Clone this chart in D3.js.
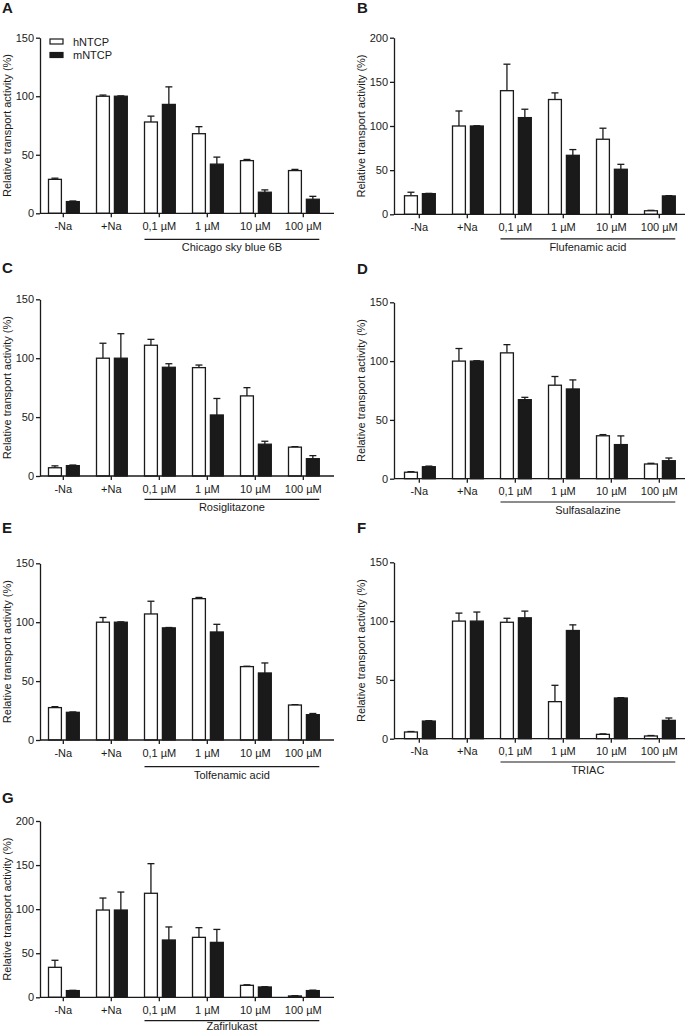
<!DOCTYPE html>
<html>
<head>
<meta charset="utf-8">
<script src="https://cdn.jsdelivr.net/npm/d3@7"></script>
<style>
  body { margin: 0; background: #fff; }
  svg text { font-family: Arial, "Liberation Sans", sans-serif; fill: #1a1a1a; }
</style>
</head>
<body>
<div id="chart"></div>
<script>
// x categories, shared by all panels
var groups = ['-Na', '+Na', '0,1 µM', '1 µM', '10 µM', '100 µM'];
var series = ['hNTCP', 'mNTCP'];

// one entry per panel, A..G
var letters = ['A', 'B', 'C', 'D', 'E', 'F', 'G'];
var compounds = ['Chicago sky blue 6B', 'Flufenamic acid', 'Rosiglitazone', 'Sulfasalazine',
                 'Tolfenamic acid', 'TRIAC', 'Zafirlukast'];
var yMax = [150, 200, 150, 150, 150, 150, 200];
var yTicks = [[0, 50, 100, 150], [0, 50, 100, 150, 200], [0, 50, 100, 150], [0, 50, 100, 150],
              [0, 50, 100, 150], [0, 50, 100, 150], [0, 50, 100, 150, 200]];

// means and upper error (SD) per panel, in the order of groups
var hntcpMean = [
    [29, 100, 78, 68, 45, 36.5],
    [21, 100, 140, 130, 85, 4],
    [7, 100, 111, 92, 68, 24.5],
    [5.5, 100, 107, 79.5, 36.5, 12.5],
    [27.5, 100, 107, 120, 62.3, 29.7],
    [5.7, 100, 99, 31.5, 3.7, 2.3],
    [34, 99, 118, 68, 13.6, 1.5]
];
var hntcpErr = [
    [1, 1, 5, 6, 1, 1],
    [4, 17, 30, 7.5, 12.5, 0.5],
    [1.6, 12.7, 5, 2.2, 7, 0.4],
    [0.5, 10.7, 7, 7.4, 1, 0.6],
    [0.8, 4, 10.8, 1, 0.3, 0.3],
    [0.4, 6.8, 3.4, 13.9, 0.4, 0.4],
    [8, 13.6, 33.6, 11, 0.6, 0.4]
];
var mntcpMean = [
    [10, 100, 93, 42, 18, 12],
    [23.4, 100, 109.5, 66.8, 51, 20.8],
    [8.8, 100, 92.3, 51.8, 27, 14.7],
    [10.2, 100, 67.2, 76.3, 29, 15.3],
    [23.5, 100, 95.2, 91.7, 56.9, 21.5],
    [15, 100, 102.8, 92, 34.6, 15.6],
    [7.6, 99, 65, 62.3, 11.7, 7.6]
];
var mntcpErr = [
    [0.5, 0.3, 15, 6, 2, 2.5],
    [0.3, 0.3, 9.5, 6.5, 5.6, 0.3],
    [0.5, 20.8, 3, 14, 2.5, 2.6],
    [0.5, 0.3, 2, 7.7, 7.4, 2.3],
    [0.3, 0.3, 0.3, 6.5, 8.5, 1],
    [0.3, 7.7, 5.7, 4.8, 0.3, 2],
    [0.3, 20.4, 14.8, 14.7, 0.3, 0.5]
];

// where each panel sits on the page
var layout = [
    {ax: 40,  bx: 39.3,  top: 37.7,  bottom: 213.3, ly: 13,  ul: 26},
    {ax: 394, bx: 395.3, top: 37.7,  bottom: 214.3, ly: 13,  ul: 24.5},
    {ax: 40,  bx: 39.3,  top: 299.3, bottom: 476,   ly: 273, ul: 23.3},
    {ax: 394, bx: 395.3, top: 302.3, bottom: 478.7, ly: 274, ul: 23.3},
    {ax: 40,  bx: 39.3,  top: 563.3, bottom: 740,   ly: 533, ul: 26.7},
    {ax: 394, bx: 395.3, top: 562.3, bottom: 738.7, ly: 533, ul: 23.3},
    {ax: 40,  bx: 39.3,  top: 821,   bottom: 997.3, ly: 803, ul: 23.4}
];

var width = 685;
var height = 1033;
var ink = '#1a1a1a';
var fontSize = '11px';

var svg = d3.select('#chart')
    .append('svg')
    .attr('width', width)
    .attr('height', height);

function drawPanel(i) {
    var L = layout[i];

    var x = d3.scaleBand()
        .domain(groups)
        .range([L.bx, L.bx + 48 * groups.length]);

    var x1 = d3.scaleBand()
        .domain(series)
        .range([9.2, 40])
        .paddingInner(0.28);

    var y = d3.scaleLinear()
        .domain([0, yMax[i]])
        .range([L.bottom, L.top]);

    var g = svg.append('g').attr('class', 'panel');

    // panel letter
    g.append('text')
        .attr('x', i % 2 ? 357 : 2)
        .attr('y', L.ly)
        .style('font-size', '15px')
        .style('font-weight', 'bold')
        .text(letters[i]);

    // bars
    var rows = groups.map(function(grp, j) {
        return [
            {grp: grp, s: 'hNTCP', v: hntcpMean[i][j], e: hntcpErr[i][j]},
            {grp: grp, s: 'mNTCP', v: mntcpMean[i][j], e: mntcpErr[i][j]}
        ];
    });
    var flat = d3.merge(rows);

    // error whiskers (upper only), drawn first so the bar outline sits on top
    var err = g.selectAll('.err')
        .data(flat)
        .enter().append('g')
        .attr('class', 'err')
        .attr('transform', function(d) {
            return 'translate(' + (x(d.grp) + x1(d.s) + x1.bandwidth() / 2) + ',0)';
        });
    err.append('line')
        .attr('x1', 0).attr('x2', 0)
        .attr('y1', function(d) { return y(d.v); })
        .attr('y2', function(d) { return y(d.v + d.e); })
        .style('stroke', ink)
        .style('stroke-width', 1.3);
    err.append('line')
        .attr('x1', -3.5).attr('x2', 3.5)
        .attr('y1', function(d) { return y(d.v + d.e); })
        .attr('y2', function(d) { return y(d.v + d.e); })
        .style('stroke', ink)
        .style('stroke-width', 1.3);

    g.selectAll('.bar')
        .data(flat)
        .enter().append('rect')
        .attr('class', 'bar')
        .attr('x', function(d) { return x(d.grp) + x1(d.s); })
        .attr('y', function(d) { return y(d.v); })
        .attr('width', x1.bandwidth())
        .attr('height', function(d) { return y(0) - y(d.v); })
        .style('fill', function(d) { return d.s === 'hNTCP' ? '#fff' : ink; })
        .style('stroke', ink)
        .style('stroke-width', 1.3);

    // y axis
    var yAxis = g.append('g')
        .attr('transform', 'translate(' + L.ax + ',0)')
        .call(d3.axisLeft(y).tickValues(yTicks[i]).tickSize(4).tickSizeOuter(0).tickPadding(2));
    yAxis.select('.domain').style('stroke', ink).style('stroke-width', 1.3);
    yAxis.selectAll('.tick line').style('stroke', ink).style('stroke-width', 1.3);
    yAxis.selectAll('.tick text')
        .style('font-size', fontSize)
        .style('font-family', 'Arial, "Liberation Sans", sans-serif')
        .style('fill', ink);

    // x axis: plain line plus ticks at group centres
    var xAxis = g.append('g')
        .attr('transform', 'translate(0,' + L.bottom + ')')
        .call(d3.axisBottom(x).tickSize(4).tickSizeOuter(0).tickPadding(5));
    xAxis.select('.domain').remove();
    xAxis.append('line')
        .attr('x1', L.ax)
        .attr('x2', L.ax + 294)
        .style('stroke', ink)
        .style('stroke-width', 1.3);
    xAxis.selectAll('.tick line').style('stroke', ink).style('stroke-width', 1.3);
    xAxis.selectAll('.tick text')
        .style('font-size', fontSize)
        .style('font-family', 'Arial, "Liberation Sans", sans-serif')
        .style('fill', ink);

    // y label
    g.append('text')
        .attr('transform', 'translate(' + (L.ax - 29) + ',' + ((L.top + L.bottom) / 2) + ') rotate(-90)')
        .attr('text-anchor', 'middle')
        .style('font-size', fontSize)
        .text('Relative transport activity (%)');

    // compound bracket under the concentration groups
    var x0 = x('0,1 µM') + x1('hNTCP');
    var xEnd = x('100 µM') + x1('mNTCP') + x1.bandwidth();
    g.append('line')
        .attr('x1', x0).attr('x2', xEnd)
        .attr('y1', L.bottom + L.ul).attr('y2', L.bottom + L.ul)
        .style('stroke', ink)
        .style('stroke-width', 1.2);
    g.append('text')
        .attr('x', (x0 + xEnd) / 2)
        .attr('y', Math.min(L.bottom + L.ul + 12, height - 3))
        .attr('text-anchor', 'middle')
        .style('font-size', fontSize)
        .text(compounds[i]);

    // legend only in panel A
    if (i === 0) {
        var leg = g.selectAll('.legend')
            .data(series)
            .enter().append('g')
            .attr('class', 'legend')
            .attr('transform', function(d, k) { return 'translate(50,' + (41.5 + k * 13.5) + ')'; });
        leg.append('rect')
            .attr('x', 0).attr('y', -2.5)
            .attr('width', 13).attr('height', 5)
            .style('fill', function(d) { return d === 'hNTCP' ? '#fff' : ink; })
            .style('stroke', ink)
            .style('stroke-width', 1.2);
        leg.append('text')
            .attr('x', 23)
            .attr('y', 4)
            .style('font-size', fontSize)
            .text(function(d) { return d; });
    }
}

for (var i = 0; i < letters.length; i++) {
    drawPanel(i);
}
</script>
</body>
</html>
